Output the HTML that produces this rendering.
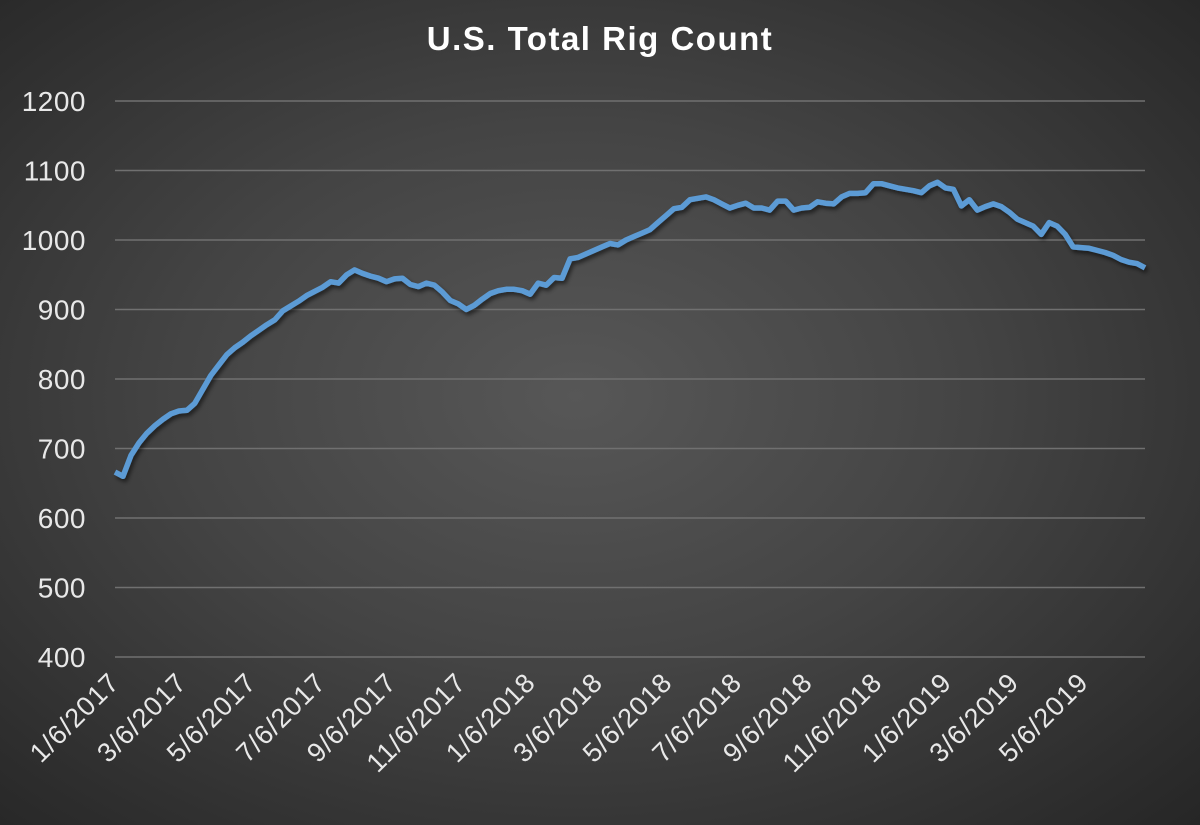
<!DOCTYPE html>
<html><head><meta charset="utf-8"><style>
html,body{margin:0;padding:0;width:1200px;height:825px;overflow:hidden;}
body{background:radial-gradient(ellipse at 48% 48%,#575757 0%,#444 45%,#2e2e2e 85%,#262626 100%);font-family:"Liberation Sans",sans-serif;}
svg{position:absolute;left:0;top:0;}
</style></head><body>
<svg id="chart" width="1200" height="825">
<defs><filter id="sh" x="-5%" y="-5%" width="110%" height="120%"><feDropShadow dx="2" dy="3" stdDeviation="2" flood-color="#000" flood-opacity="0.55"/></filter></defs>
<text x="600" y="50" text-anchor="middle" fill="#fff" font-size="33" font-weight="bold" letter-spacing="1.5">U.S. Total Rig Count</text>
<g id="grid"></g><g id="ylab"></g><g id="xlab"></g><g id="series"></g>
</svg>
<script>
const yTicks=[400,500,600,700,800,900,1000,1100,1200];
const xTickLabels=["1/6/2017","3/6/2017","5/6/2017","7/6/2017","9/6/2017","11/6/2017","1/6/2018","3/6/2018","5/6/2018","7/6/2018","9/6/2018","11/6/2018","1/6/2019","3/6/2019","5/6/2019"];
const xTickDays=[0,59,120,181,243,304,365,424,485,546,608,669,730,789,850];
const rigCount=[666,660,690,708,722,733,742,750,754,755,765,785,805,820,835,845,853,862,870,878,885,898,905,912,920,926,932,940,938,950,957,952,948,945,940,944,945,936,933,938,935,925,913,908,900,906,915,923,927,929,929,927,922,938,935,946,945,973,975,980,985,990,995,993,1000,1005,1010,1015,1025,1035,1045,1047,1058,1060,1062,1058,1052,1046,1050,1053,1046,1046,1043,1056,1056,1043,1046,1047,1055,1053,1052,1062,1067,1067,1068,1081,1081,1078,1075,1073,1071,1068,1078,1083,1075,1073,1049,1058,1043,1048,1052,1048,1040,1030,1025,1020,1008,1025,1020,1008,990,989,988,985,982,978,972,968,966,960];
const NS="http://www.w3.org/2000/svg";
const x0=115,x1=1145,yTop=101,yBot=657,pxPerDay=(1084-115)/850;
const yS=v=>yBot-(v-400)*(yBot-yTop)/800;
const xDay=d=>x0+d*pxPerDay;
const xIdx=i=>x0+i*(x1-x0)/(rigCount.length-1);
function mk(t,a,p){const e=document.createElementNS(NS,t);for(const k in a)e.setAttribute(k,a[k]);p.appendChild(e);return e;}
const g=document.getElementById('grid'),yl=document.getElementById('ylab'),xl=document.getElementById('xlab'),s=document.getElementById('series');
yTicks.forEach(v=>{
 const l=mk('line',{x1:x0,x2:x1,y1:yS(v),y2:yS(v),stroke:'#707070','stroke-width':1.5},g);
 
 
 const t=mk('text',{x:86,y:yS(v)+10,'text-anchor':'end',fill:'#e8e8e8','font-size':28,'letter-spacing':0.5},yl);
 t.textContent=v;
 
 
});
xTickLabels.forEach((lab,i)=>{
 const x=xDay(xTickDays[i])+6,y=684;
 const t=mk('text',{x:x,y:y,'text-anchor':'end',fill:'#e8e8e8','font-size':27,'letter-spacing':1,transform:`rotate(-45 ${x} ${y})`},xl);
 t.textContent=lab;
 
 
});
const d=rigCount.map((v,i)=>(i?'L':'M')+xIdx(i).toFixed(1)+' '+yS(v).toFixed(1)).join(' ');
const p=mk('path',{d:d,fill:'none',stroke:'#5b9bd5','stroke-width':5.5,'stroke-linejoin':'round',filter:'url(#sh)'},s);


</script>
</body></html>
